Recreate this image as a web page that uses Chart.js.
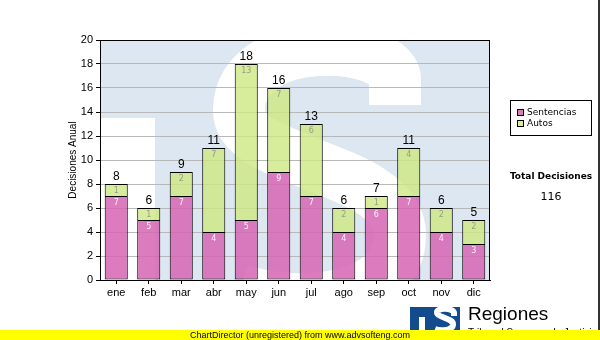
<!DOCTYPE html>
<html>
<head>
<meta charset="utf-8">
<script src="https://cdn.jsdelivr.net/npm/chart.js@4.4.1/dist/chart.umd.min.js"></script>
<style>
  html, body { margin: 0; padding: 0; background: #fff; }
  #wrap { position: relative; width: 600px; height: 340px; overflow: hidden; }
  #grafico { position: absolute; left: 0; top: 0; }
  .borde { position: absolute; right: 0; top: 0; width: 2px; height: 330px; background: #333; }
  #logo { position: absolute; left: 410px; top: 307px; }
  #marca { position: absolute; left: 468px; top: 303px; font: 19px 'Liberation Sans', Arial, sans-serif; color: #000; }
  #sub { position: absolute; left: 468px; top: 327px; font: 10px 'Liberation Sans', Arial, sans-serif; color: #000; white-space: nowrap; }
  #pie { position: absolute; left: 0; top: 330px; width: 600px; height: 10px; background: #ffff00;
         font: 9px 'Liberation Sans', Arial, sans-serif; line-height: 10px; text-align: center; color: #000; }
</style>
</head>
<body>
<div id="wrap">
  <canvas id="grafico" width="600" height="340"></canvas>
  <div class="borde"></div>
  <svg id="logo" width="50" height="23" viewBox="0 0 50 23">
    <rect x="0" y="0" width="50" height="23" fill="#124c8e"/>
    <rect x="9" y="10" width="6" height="13" fill="#fff"/>
    <path d="M44 9 L44 6 C44 1 26 0 27 6 C28 11 44 11 43 18 C42 24 30 24 25 22" fill="none" stroke="#fff" stroke-width="6"/>
  </svg>
  <div id="marca">Regiones</div>
  <div id="sub">Tribunal Supremo de Justicia</div>
  <div id="pie">ChartDirector (unregistered) from www.advsofteng.com</div>
</div>
<script>
// Decisiones por mes
const meses = ['ene', 'feb', 'mar', 'abr', 'may', 'jun', 'jul', 'ago', 'sep', 'oct', 'nov', 'dic'];
const sentencias = [7, 5, 7, 4, 5, 9, 7, 4, 6, 7, 4, 3];
const autos = [1, 1, 2, 7, 13, 7, 6, 2, 1, 4, 2, 2];
const yMax = 20;
const yPaso = 2;

const totales = meses.map((m, i) => sentencias[i] + autos[i]);
const totalDecisiones = totales.reduce((a, b) => a + b, 0);

const fuenteEje = "'Liberation Sans', Arial, sans-serif";
const fuenteTxt = "'DejaVu Sans', Verdana, sans-serif";

// fondo del area de trazado con la "S" en marca de agua
const marcaAgua = {
  id: 'marcaAgua',
  beforeDraw(chart) {
    const { ctx, chartArea: a } = chart;
    ctx.save();
    ctx.beginPath();
    ctx.rect(a.left, a.top, a.width, a.height);
    ctx.clip();
    ctx.fillStyle = '#dde7f1';
    ctx.fillRect(a.left, a.top, a.width, a.height);
    ctx.fillStyle = '#fff';
    ctx.fillRect(a.left, a.top + 78, 55, a.height);
    ctx.translate(a.left, a.top);
    ctx.strokeStyle = '#fff';
    ctx.lineWidth = 52;
    ctx.lineCap = 'butt';
    ctx.beginPath();
    ctx.moveTo(295, 65);
    ctx.lineTo(295, 40);
    ctx.bezierCurveTo(295, 0, 140, -10, 139, 70);
    ctx.bezierCurveTo(138, 125, 300, 125, 300, 195);
    ctx.bezierCurveTo(300, 260, 200, 270, 140, 250);
    ctx.stroke();
    ctx.restore();
  }
};

// valores dentro de cada tramo y total encima de la barra
const etiquetas = {
  id: 'etiquetas',
  afterDatasetsDraw(chart) {
    const { ctx } = chart;
    const colores = ['rgba(255,245,252,0.95)', '#9a9a88'];
    ctx.save();
    ctx.textAlign = 'center';
    ctx.textBaseline = 'middle';
    ctx.font = '8px ' + fuenteTxt;
    chart.data.datasets.forEach((ds, di) => {
      ctx.fillStyle = colores[di];
      chart.getDatasetMeta(di).data.forEach((bar, i) => {
        ctx.fillText(ds.data[i], bar.x, bar.y + 7);
      });
    });
    ctx.fillStyle = '#000';
    ctx.font = '12px ' + fuenteEje;
    ctx.textBaseline = 'bottom';
    chart.getDatasetMeta(1).data.forEach((bar, i) => {
      ctx.fillText(totales[i], bar.x, bar.y - 1);
    });
    ctx.restore();
  }
};

// marco, leyenda y total
const marco = {
  id: 'marco',
  afterDraw(chart) {
    const { ctx, chartArea: a } = chart;
    ctx.save();
    ctx.strokeStyle = '#000';
    ctx.lineWidth = 1;
    ctx.strokeRect(a.left + 0.5, a.top + 0.5, a.width - 1, a.height);

    // leyenda
    ctx.fillStyle = '#fff';
    ctx.fillRect(510.5, 100.5, 81, 35);
    ctx.strokeRect(510.5, 100.5, 81, 35);
    ctx.font = '9px ' + fuenteTxt;
    ctx.textBaseline = 'middle';
    chart.data.datasets.forEach((ds, di) => {
      const y = 113 + di * 11;
      ctx.fillStyle = ds.backgroundColor;
      ctx.fillRect(517.5, y - 3.5, 6, 6);
      ctx.strokeRect(517.5, y - 3.5, 6, 6);
      ctx.fillStyle = '#000';
      ctx.textAlign = 'left';
      ctx.fillText(ds.label, 527, y);
    });

    ctx.textAlign = 'center';
    ctx.font = 'bold 9px ' + fuenteTxt;
    ctx.fillText('Total Decisiones', 551, 177);
    ctx.font = '11px ' + fuenteTxt;
    ctx.fillText(String(totalDecisiones), 551, 197);
    ctx.restore();
  }
};

new Chart(document.getElementById('grafico'), {
  type: 'bar',
  data: {
    labels: meses,
    datasets: [
      {
        label: 'Sentencias',
        data: sentencias,
        backgroundColor: 'rgba(215,100,180,0.85)',
        borderColor: '#000',
        borderWidth: 1,
        borderSkipped: false,
      },
      {
        label: 'Autos',
        data: autos,
        backgroundColor: 'rgba(205,232,130,0.8)',
        borderColor: '#000',
        borderWidth: 1,
        borderSkipped: 'start',
      },
    ],
  },
  options: {
    responsive: false,
    animation: false,
    layout: { padding: { left: 67, right: 110, top: 40, bottom: 40 } },
    categoryPercentage: 1,
    barPercentage: 0.71,
    plugins: {
      legend: { display: false },
      tooltip: { enabled: false },
    },
    scales: {
      x: {
        stacked: true,
        grid: { display: true, drawOnChartArea: false, offset: false, tickLength: 4, color: '#000' },
        border: { color: '#000', width: 1 },
        ticks: { color: '#000', font: { family: fuenteEje, size: 11 }, padding: 2 },
        afterFit(s) { s.height = 20; },
      },
      y: {
        stacked: true,
        min: 0,
        max: yMax,
        grid: { color: '#b8b8b8', tickLength: 4, tickColor: '#000' },
        border: { color: '#000', width: 1 },
        ticks: { stepSize: yPaso, color: '#000', font: { family: fuenteEje, size: 11 }, padding: 3 },
        title: {
          display: true,
          text: 'Decisiones Anual',
          color: '#000',
          font: { family: fuenteEje, size: 10 },
          padding: { top: 0, bottom: 0 },
        },
        afterFit(s) { s.width = 33; },
      },
    },
  },
  plugins: [marcaAgua, etiquetas, marco],
});
</script>
</body>
</html>
